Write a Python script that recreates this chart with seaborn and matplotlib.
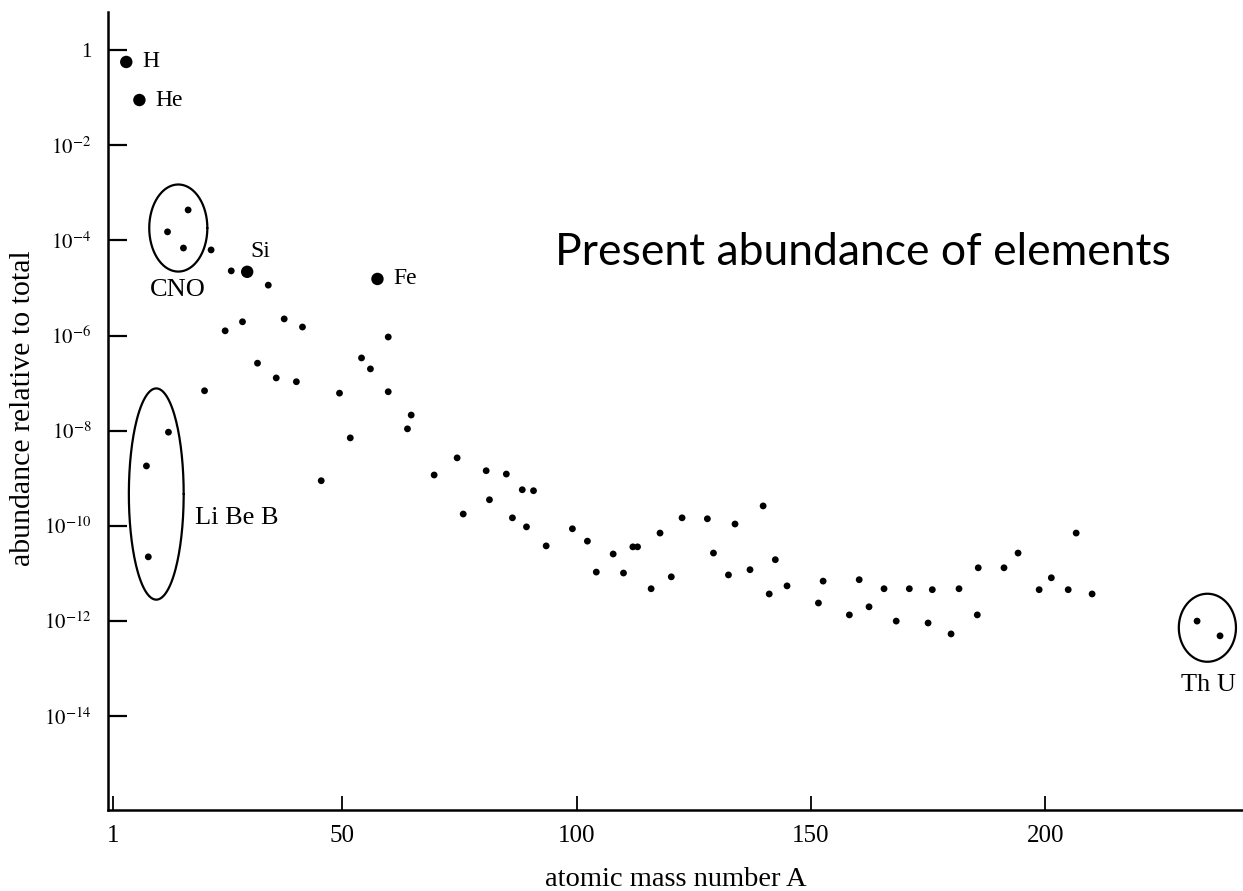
import numpy as np
import pandas as pd
import matplotlib
matplotlib.use("Agg")
import matplotlib.pyplot as plt
import seaborn as sns

# Mass number A and log10 of abundance relative to total
A_small = [17.1, 12.7, 16.1, 22.0, 26.3, 34.2, 25.0, 28.7, 37.6, 41.5, 31.9, 35.9,
           40.2, 20.6, 12.9, 8.2, 8.6, 59.8, 54.1, 56.0, 49.4, 59.8, 64.7, 63.9,
           51.7, 45.5, 74.5, 69.6, 80.7, 85.0, 88.4, 90.8, 81.4, 75.8, 86.3, 89.3,
           93.5, 99.1, 102.3, 104.2, 107.8, 110.0, 112.0, 113.0, 115.9, 117.8, 120.2,
           122.5, 127.9, 129.2, 132.4, 133.8, 137.0, 139.8, 142.4, 141.1, 144.9,
           151.6, 152.6, 158.2, 160.3, 162.4, 165.6, 168.2, 171.0, 175.9, 181.6,
           175.0, 179.9, 185.5, 185.7, 191.2, 194.2, 198.7, 201.3, 204.9, 206.6,
           210.0, 232.4, 237.3]
log_small = [-3.36, -3.82, -4.16, -4.20, -4.64, -4.94, -5.90, -5.71, -5.65, -5.82,
             -6.58, -6.89, -6.97, -7.16, -8.03, -8.74, -10.65, -6.03, -6.47, -6.70,
             -7.21, -7.18, -7.67, -7.96, -8.15, -9.05, -8.57, -8.93, -8.84, -8.91,
             -9.24, -9.26, -9.45, -9.75, -9.83, -10.02, -10.42, -10.06, -10.32,
             -10.97, -10.59, -10.99, -10.44, -10.44, -11.32, -10.15, -11.07, -9.83,
             -9.85, -10.57, -11.03, -9.96, -10.92, -9.58, -10.71, -11.43, -11.26,
             -11.62, -11.16, -11.87, -11.13, -11.70, -11.32, -12.00, -11.32, -11.34,
             -11.32, -12.04, -12.27, -11.87, -10.88, -10.88, -10.57, -11.34, -11.09,
             -11.34, -10.15, -11.43, -12.00, -12.31]

# Highlighted elements drawn with larger dots
big_names = ["H", "He", "Si", "Fe"]
A_big = [3.9, 6.7, 29.7, 57.5]
log_big = [-0.25, -1.05, -4.66, -4.81]

y_ticks_exp = [0, -2, -4, -6, -8, -10, -12, -14]
x_ticks = [1, 50, 100, 150, 200]

small = pd.DataFrame({"A": A_small, "abundance": 10.0 ** np.array(log_small)})
big = pd.DataFrame({"A": A_big, "abundance": 10.0 ** np.array(log_big), "name": big_names})

sns.set_style("white")
plt.rcParams["font.family"] = ["Liberation Serif", "DejaVu Serif"]
plt.rcParams["mathtext.fontset"] = "stix"
plt.rcParams["text.color"] = "black"
plt.rcParams["axes.labelcolor"] = "black"

fig = plt.figure(figsize=(12.43, 8.91), dpi=100)
ax = fig.add_axes([108 / 1243, 81 / 891, 1 - 108 / 1243, (810 - 12) / 891])

sns.scatterplot(data=small, x="A", y="abundance", ax=ax, s=24, color="black",
                edgecolor="none", legend=False, zorder=3)
sns.scatterplot(data=big, x="A", y="abundance", ax=ax, s=80, color="black",
                edgecolor="none", legend=False, zorder=3)

ax.set_yscale("log")
ax.set_xlim(0.0, 242.2)
ax.set_ylim(10 ** -15.97, 10 ** 0.8)

ax.set_yticks([10.0 ** e for e in y_ticks_exp])
ax.set_yticklabels(["1"] + [rf"$10^{{{e}}}$" for e in y_ticks_exp[1:]])
ax.yaxis.set_minor_locator(matplotlib.ticker.NullLocator())
ax.set_xticks(x_ticks)
ax.set_xticklabels([str(v) for v in x_ticks])

ax.tick_params(axis="y", which="major", left=True, direction="in", length=14,
               width=1.6, labelsize=15, pad=12, colors="black")
ax.tick_params(axis="x", which="major", bottom=True, direction="in", length=10,
               width=1.3, labelsize=18, pad=11, colors="black")

for side in ["top", "right"]:
    ax.spines[side].set_visible(False)
for side in ["left", "bottom"]:
    ax.spines[side].set_linewidth(1.8)
    ax.spines[side].set_color("black")

ax.set_xlabel("atomic mass number A", fontsize=20.5)
ax.set_ylabel("abundance relative to total", fontsize=21.5)
ax.xaxis.set_label_coords(0.5, -(879 - 810) / 798)
ax.yaxis.set_label_coords(-(108 - 23) / (1243 - 108), (810 - 408) / 798)
ax.xaxis.label.set_verticalalignment("center")
ax.yaxis.label.set_verticalalignment("center")

# Labels beside the highlighted elements
label_pos = {"H": (7.3, -0.25), "He": (10.1, -1.05), "Si": (30.4, -4.24), "Fe": (60.9, -4.81)}
for name, (xa, ly) in label_pos.items():
    ax.text(xa, 10 ** ly, name, fontsize=17, ha="left", va="center")

# Group outlines (ellipses in A / log-abundance space)
groups = [
    ("CNO", 15.0, -3.74, 6.2, 0.915, (14.8, -5.04), "center"),
    ("Li Be B", 10.3, -9.33, 5.85, 2.22, (18.6, -9.83), "left"),
    ("Th U", 234.6, -12.14, 6.1, 0.715, (234.8, -13.34), "center"),
]
t = np.linspace(0, 2 * np.pi, 200)
for name, cx, cy, rx, ry, (tx, ty), ha in groups:
    ax.plot(cx + rx * np.cos(t), 10 ** (cy + ry * np.sin(t)), color="black", lw=1.6)
    ax.text(tx, 10 ** ty, name, fontsize=19, ha=ha, va="center")

fig.text(555 / 1243, 1 - 265 / 891, "Present abundance of elements",
         fontsize=32, family=["Lato", "DejaVu Sans"], ha="left", va="baseline",
         color="black")

fig.savefig("out.png", dpi=100, facecolor="white")
